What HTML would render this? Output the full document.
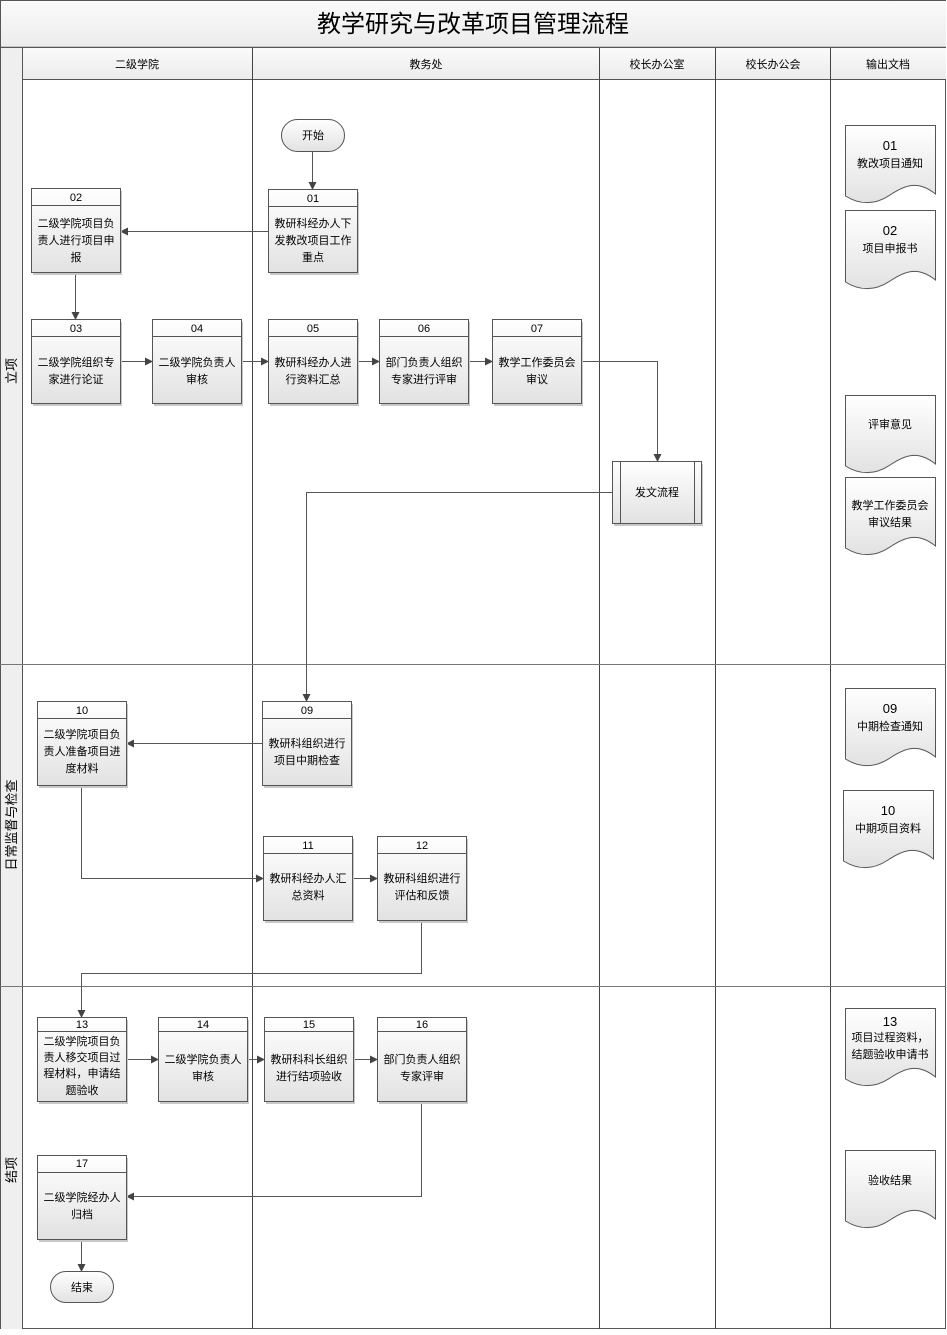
<!DOCTYPE html>
<html><head><meta charset="utf-8"><style>
html,body{margin:0;padding:0;background:#fff;}
svg text{font-family:"Liberation Sans","Noto Sans CJK SC","WenQuanYi Zen Hei",sans-serif;font-size:11px;fill:#000;}
</style></head><body>
<svg width="947" height="1330" viewBox="0 0 947 1330" xmlns="http://www.w3.org/2000/svg">
<defs>
<linearGradient id="g" x1="0" y1="0" x2="0" y2="1"><stop offset="0" stop-color="#ffffff"/><stop offset="1" stop-color="#e2e2e2"/></linearGradient>
<linearGradient id="h" x1="0" y1="0" x2="0" y2="1"><stop offset="0" stop-color="#fafafa"/><stop offset="1" stop-color="#ececec"/></linearGradient>
<marker id="a" markerWidth="8" markerHeight="8" refX="7" refY="4" orient="auto" markerUnits="userSpaceOnUse"><path d="M0,0 L8,4 L0,8 z" fill="#444"/></marker>
</defs>
<rect x="0.5" y="0.5" width="945" height="1328" fill="#fff" stroke="#555"/>
<rect x="1" y="1" width="945" height="46" fill="url(#h)"/>
<line x1="0" y1="47.5" x2="946" y2="47.5" stroke="#555" stroke-width="1.5"/>
<text x="473" y="32" text-anchor="middle" style="font-size:24px">教学研究与改革项目管理流程</text>
<rect x="1" y="48" width="21" height="1281" fill="#efefef"/>
<rect x="22" y="48" width="924" height="31" fill="url(#h)"/>
<line x1="22.5" y1="48" x2="22.5" y2="1329" stroke="#555"/>
<line x1="22" y1="79.5" x2="946" y2="79.5" stroke="#555"/>
<g stroke="#444">
<line x1="252.5" y1="48" x2="252.5" y2="1329"/>
<line x1="599.5" y1="48" x2="599.5" y2="1329"/>
<line x1="715.5" y1="48" x2="715.5" y2="1329"/>
<line x1="830.5" y1="48" x2="830.5" y2="1329"/>
</g>
<g stroke="#777">
<line x1="0" y1="664.5" x2="946" y2="664.5"/>
<line x1="0" y1="986.5" x2="946" y2="986.5"/>
</g>
<text x="137" y="68" text-anchor="middle">二级学院</text>
<text x="426" y="68" text-anchor="middle">教务处</text>
<text x="657" y="68" text-anchor="middle">校长办公室</text>
<text x="773" y="68" text-anchor="middle">校长办公会</text>
<text x="888" y="68" text-anchor="middle">输出文档</text>
<text transform="translate(16,371) rotate(-90)" text-anchor="middle" style="font-size:13px">立项</text>
<text transform="translate(16,825) rotate(-90)" text-anchor="middle" style="font-size:13px">日常监督与检查</text>
<text transform="translate(16,1170) rotate(-90)" text-anchor="middle" style="font-size:13px">结项</text>

<g stroke="#555" fill="none" marker-end="url(#a)">
<path d="M312.5,151 V189"/>
<path d="M268,231.5 H121"/>
<path d="M75.5,272 V319"/>
<path d="M120,361.5 H152"/>
<path d="M241,361.5 H268"/>
<path d="M357,361.5 H379"/>
<path d="M468,361.5 H492"/>
<path d="M581,361.5 H657.5 V461"/>
<path d="M612,492.5 H306.5 V701"/>
<path d="M262,743.5 H127"/>
<path d="M81.5,785 V878.5 H263"/>
<path d="M352,878.5 H377"/>
<path d="M421.5,920 V973.5 H81.5 V1017"/>
<path d="M126,1059.5 H158"/>
<path d="M247,1059.5 H264"/>
<path d="M353,1059.5 H377"/>
<path d="M421.5,1101 V1196.5 H127"/>
<path d="M81.5,1239 V1271"/>
</g>

<g stroke="#555" fill="url(#g)">
<rect x="281.5" y="119.5" width="63" height="32" rx="16"/>
<rect x="50.5" y="1271.5" width="63" height="31" rx="15.5"/>
</g>
<text x="313" y="139" text-anchor="middle">开始</text>
<text x="82" y="1291" text-anchor="middle">结束</text>

<g stroke="#555">
<g fill="#c8c8c8" stroke="none">
<rect x="33" y="191" width="89" height="84"/><rect x="270" y="192" width="89" height="83"/>
<rect x="33" y="322" width="89" height="84"/><rect x="154" y="322" width="89" height="84"/>
<rect x="270" y="322" width="89" height="84"/><rect x="381" y="322" width="89" height="84"/><rect x="494" y="322" width="89" height="84"/>
<rect x="614" y="464" width="89" height="62"/>
<rect x="39" y="704" width="89" height="84"/><rect x="264" y="704" width="89" height="84"/>
<rect x="265" y="839" width="89" height="84"/><rect x="379" y="839" width="89" height="84"/>
<rect x="39" y="1020" width="89" height="84"/><rect x="160" y="1020" width="89" height="84"/><rect x="266" y="1020" width="89" height="84"/><rect x="379" y="1020" width="89" height="84"/>
<rect x="39" y="1158" width="89" height="84"/>
</g>
<g fill="url(#g)">
<rect x="31.5" y="188.5" width="89" height="84"/><rect x="268.5" y="189.5" width="89" height="83"/>
<rect x="31.5" y="319.5" width="89" height="84"/><rect x="152.5" y="319.5" width="89" height="84"/>
<rect x="268.5" y="319.5" width="89" height="84"/><rect x="379.5" y="319.5" width="89" height="84"/><rect x="492.5" y="319.5" width="89" height="84"/>
<rect x="612.5" y="461.5" width="89" height="62"/>
<rect x="37.5" y="701.5" width="89" height="84"/><rect x="262.5" y="701.5" width="89" height="84"/>
<rect x="263.5" y="836.5" width="89" height="84"/><rect x="377.5" y="836.5" width="89" height="84"/>
<rect x="37.5" y="1017.5" width="89" height="84"/><rect x="158.5" y="1017.5" width="89" height="84"/><rect x="264.5" y="1017.5" width="89" height="84"/><rect x="377.5" y="1017.5" width="89" height="84"/>
<rect x="37.5" y="1155.5" width="89" height="84"/>
</g>
<g fill="none">
<path d="M31,205.5h89 M268,206.5h89 M31,336.5h89 M152,336.5h89 M268,336.5h89 M379,336.5h89 M492,336.5h89"/>
<path d="M620.5,461v62 M694.5,461v62"/>
<path d="M37,718.5h89 M262,718.5h89 M263,853.5h89 M377,853.5h89"/>
<path d="M37,1031.5h89 M158,1031.5h89 M264,1031.5h89 M377,1031.5h89 M37,1172.5h89"/>
</g>
</g>
<g text-anchor="middle">
<text x="76" y="201">02</text>
<text x="76" y="227">二级学院项目负</text><text x="76" y="244">责人进行项目申</text><text x="76" y="261">报</text>
<text x="313" y="202">01</text>
<text x="313" y="227">教研科经办人下</text><text x="313" y="244">发教改项目工作</text><text x="313" y="261">重点</text>
<text x="76" y="332">03</text><text x="76" y="366">二级学院组织专</text><text x="76" y="383">家进行论证</text>
<text x="197" y="332">04</text><text x="197" y="366">二级学院负责人</text><text x="197" y="383">审核</text>
<text x="313" y="332">05</text><text x="313" y="366">教研科经办人进</text><text x="313" y="383">行资料汇总</text>
<text x="424" y="332">06</text><text x="424" y="366">部门负责人组织</text><text x="424" y="383">专家进行评审</text>
<text x="537" y="332">07</text><text x="537" y="366">教学工作委员会</text><text x="537" y="383">审议</text>
<text x="657" y="496">发文流程</text>
<text x="82" y="714">10</text><text x="82" y="738">二级学院项目负</text><text x="82" y="755">责人准备项目进</text><text x="82" y="772">度材料</text>
<text x="307" y="714">09</text><text x="307" y="747">教研科组织进行</text><text x="307" y="764">项目中期检查</text>
<text x="308" y="849">11</text><text x="308" y="882">教研科经办人汇</text><text x="308" y="899">总资料</text>
<text x="422" y="849">12</text><text x="422" y="882">教研科组织进行</text><text x="422" y="899">评估和反馈</text>
<text x="82" y="1028">13</text><text x="82" y="1045">二级学院项目负</text><text x="82" y="1061">责人移交项目过</text><text x="82" y="1077">程材料，申请结</text><text x="82" y="1094">题验收</text>
<text x="203" y="1028">14</text><text x="203" y="1063">二级学院负责人</text><text x="203" y="1080">审核</text>
<text x="309" y="1028">15</text><text x="309" y="1063">教研科科长组织</text><text x="309" y="1080">进行结项验收</text>
<text x="422" y="1028">16</text><text x="422" y="1063">部门负责人组织</text><text x="422" y="1080">专家评审</text>
<text x="82" y="1167">17</text><text x="82" y="1201">二级学院经办人</text><text x="82" y="1218">归档</text>
</g>

<g stroke="#555" fill="url(#g)">
<path d="M845.5,125.5 H935.5 V194 C918,180 905,185 890,195 C875,205 860,205 845.5,196 Z"/>
<path d="M845.5,210.5 H935.5 V280 C918,266 905,271 890,281 C875,291 860,291 845.5,282 Z"/>
<path d="M845.5,395.5 H935.5 V464 C918,450 905,455 890,465 C875,475 860,475 845.5,466 Z"/>
<path d="M845.5,477.5 H935.5 V546 C918,532 905,537 890,547 C875,557 860,557 845.5,548 Z"/>
<path d="M845.5,688.5 H935.5 V757 C918,743 905,748 890,758 C875,768 860,768 845.5,759 Z"/>
<path d="M843.5,790.5 H933.5 V859 C916,845 903,850 888,860 C873,870 858,870 843.5,861 Z"/>
<path d="M845.5,1008.5 H935.5 V1077 C918,1063 905,1068 890,1078 C875,1088 860,1088 845.5,1079 Z"/>
<path d="M845.5,1150.5 H935.5 V1219 C918,1205 905,1210 890,1220 C875,1230 860,1230 845.5,1221 Z"/>
</g>
<g text-anchor="middle">
<text x="890" y="150" style="font-size:13px">01</text><text x="890" y="167">教改项目通知</text>
<text x="890" y="235" style="font-size:13px">02</text><text x="890" y="252">项目申报书</text>
<text x="890" y="428">评审意见</text>
<text x="890" y="509">教学工作委员会</text><text x="890" y="526">审议结果</text>
<text x="890" y="713" style="font-size:13px">09</text><text x="890" y="730">中期检查通知</text>
<text x="888" y="815" style="font-size:13px">10</text><text x="888" y="832">中期项目资料</text>
<text x="890" y="1026" style="font-size:13px">13</text><text x="890" y="1041">项目过程资料，</text><text x="890" y="1058">结题验收申请书</text>
<text x="890" y="1184">验收结果</text>
</g>
</svg>
</body></html>
